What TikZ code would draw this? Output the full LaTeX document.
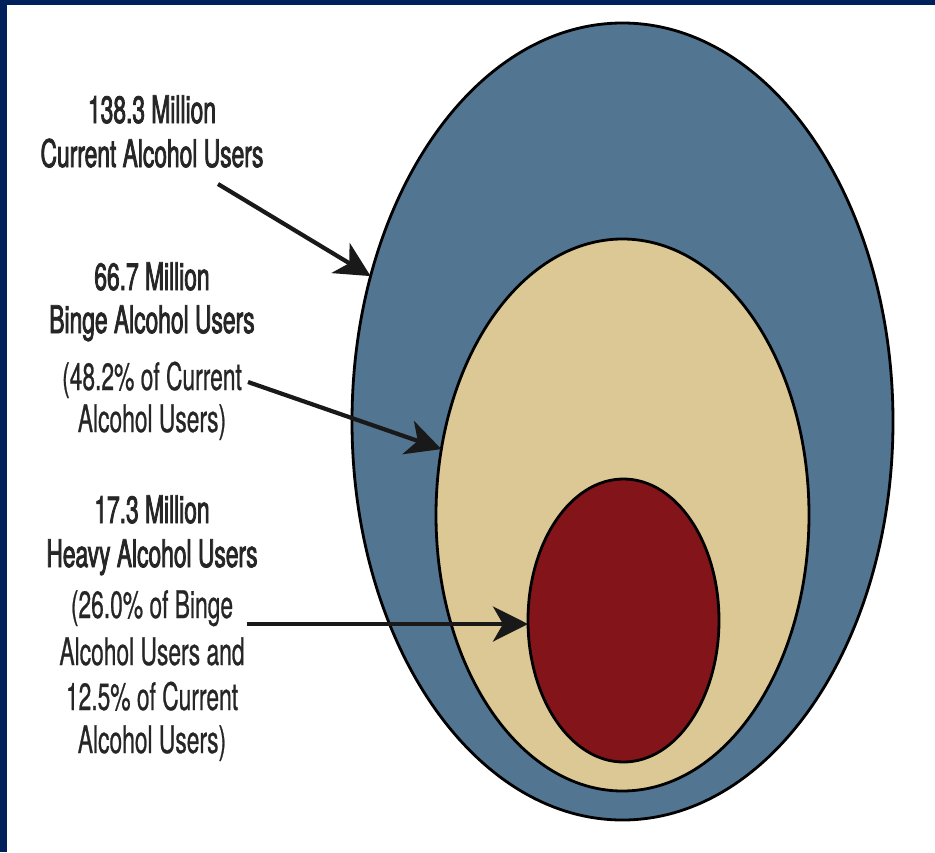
\documentclass[tikz,border=0pt]{standalone}
\usepackage{fontspec}
\setmainfont{TeX Gyre Heros}[FakeStretch=0.6,FakeBold=0.6]
\newfontfamily\hdrfont{TeX Gyre Heros}[FakeStretch=0.6,FakeBold=2]
\usetikzlibrary{shapes.geometric,arrows.meta}
\definecolor{navy}{RGB}{0,32,91}
\definecolor{outerblue}{RGB}{82,117,145}
\definecolor{beige}{RGB}{220,200,148}
\definecolor{darkred}{RGB}{131,20,26}
\begin{document}
\begin{tikzpicture}[x=1pt,y=-1pt,
  ring/.style={ellipse,draw=black,line width=2.8pt,inner sep=0pt,outer sep=0pt},
  hdr/.style={anchor=base,font=\hdrfont\fontsize{38}{44}\selectfont,inner sep=0pt,text=black!85},
  txt/.style={anchor=base,font=\fontsize{38}{44}\selectfont,inner sep=0pt,text=black!85},
  pointer/.style={line width=4.2pt,draw=black!90,-{Stealth[length=35pt,width=35pt,inset=10pt]}}]
\fill[white] (0,0) rectangle (935,852);
\fill[navy] (0,0) rectangle (935,5);
\fill[navy] (0,0) rectangle (7,852);
\useasboundingbox (0,0) rectangle (935,852);

\node[ring,fill=outerblue,minimum width=541pt,minimum height=797pt] (outer) at (622.5,421.5) {};
\node[ring,fill=beige,minimum width=373pt,minimum height=552pt] (mid) at (622.5,515) {};
\node[ring,fill=darkred,minimum width=191pt,minimum height=283pt] (inner) at (623.5,620.5) {};

% block 1
\node[hdr] (t1a) at (152,123) {138.3 Million};
\node[hdr] (t1b) at (152,167) {Current Alcohol Users};
% block 2
\node[hdr] (t2a) at (152,290) {66.7 Million};
\node[hdr] (t2b) at (152,333) {Binge Alcohol Users};
\node[txt] (t2c) at (152,390) {(48.2\% of Current};
\node[txt] (t2d) at (152,432) {Alcohol Users)};
% block 3
\node[hdr] (t3a) at (152,523) {17.3 Million};
\node[hdr] (t3b) at (152,567) {Heavy Alcohol Users};
\node[txt] (t3c) at (152,618) {(26.0\% of Binge};
\node[txt] (t3d) at (152,665) {Alcohol Users and};
\node[txt] (t3e) at (152,710) {12.5\% of Current};
\node[txt] (t3f) at (152,753) {Alcohol Users)};

\coordinate (s1) at (218,184);
\coordinate (s2) at (248,382);
\coordinate (s3) at (247,624);
\draw[pointer] (s1) -- (outer.150);
\draw[pointer] (s2) -- (mid.160);
\draw[pointer] (s3) -- (inner.west |- s3);
\end{tikzpicture}
\end{document}
